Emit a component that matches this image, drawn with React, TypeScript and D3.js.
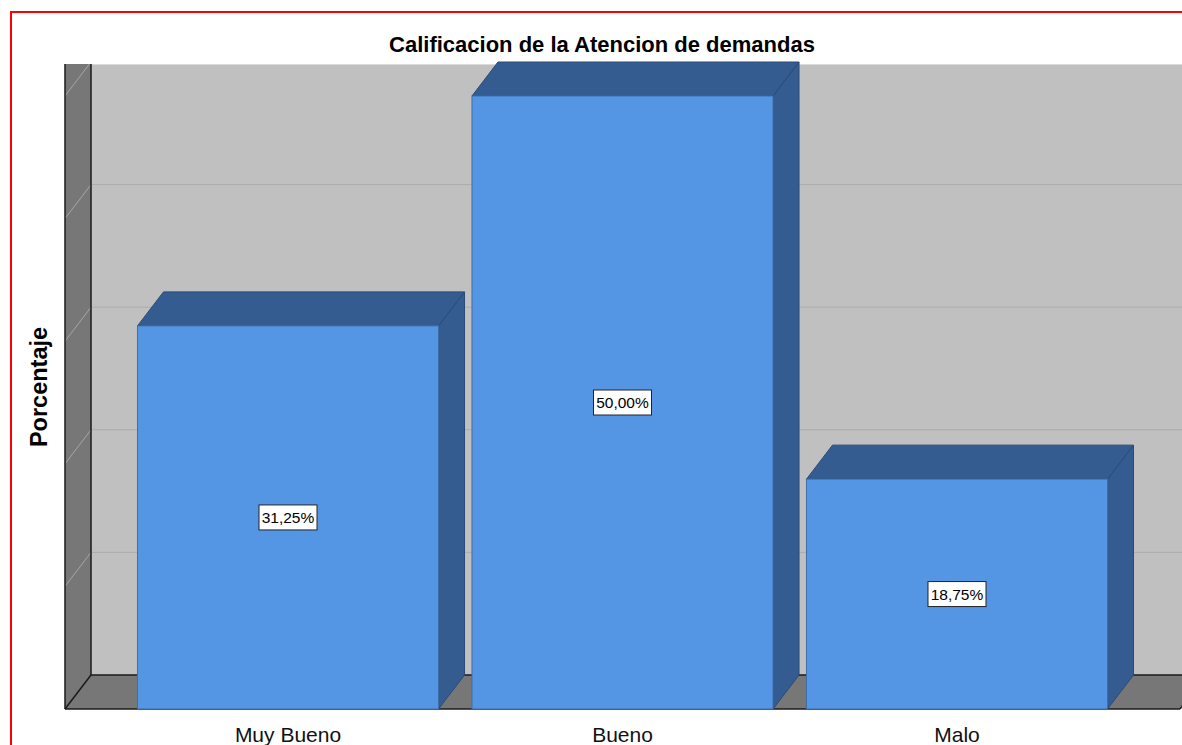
import * as d3 from "d3";

const categories = ["Muy Bueno", "Bueno", "Malo"];
const percentages = [31.25, 50, 18.75];
const yTicks = [0, 10, 20, 30, 40, 50];

const esLocale = d3.formatLocale({ decimal: ",", thousands: ".", grouping: [3], currency: ["", "€"] });
const fmt = (v: number) => esLocale.format(".2f")(v) + "%";

const W = 1182;
const H = 745;
const FONT = "'Liberation Sans', Arial, sans-serif";

// depth offset of the 3D plot
const DX = 26;
const DY = 34;

const App = () => {
  const left = 65;
  const right = 1180;
  const top = 64;
  const floorFront = 709;

  const x = d3.scaleBand<string>().domain(categories).range([left, right]).paddingInner(0.1).paddingOuter(0.2167);
  const y = d3.scaleLinear().domain([0, 50]).range([floorFront, 96]);

  const floorBack = y(0) - DY;
  const bw = x.bandwidth();

  return (
    <svg
      width={W}
      height={H}
      viewBox={`0 0 ${W} ${H}`}
      style={{ position: "absolute", left: 0, top: 0, display: "block", background: "#fff" }}
    >
      <defs>
        <clipPath id="plotClip">
          <rect x={0} y={top} width={W} height={H - top} />
        </clipPath>
      </defs>

      {/* back wall */}
      <rect x={left + DX} y={top} width={W - left - DX} height={floorBack - top} fill="#c0c0c0" />
      <line x1={left + DX} x2={W} y1={top + 0.5} y2={top + 0.5} stroke="#dadada" />
      {yTicks.slice(1, -1).map((t) => (
        <line key={t} x1={left + DX} x2={W} y1={y(t) - DY} y2={y(t) - DY} stroke="#acacac" strokeWidth={1} />
      ))}

      {/* left wall */}
      <polygon
        points={`${left},${top} ${left + DX},${top} ${left + DX},${floorBack} ${left},${floorFront}`}
        fill="#777777"
      />
      <g clipPath="url(#plotClip)">
        {yTicks.slice(1).map((t) => (
          <line key={t} x1={left} y1={y(t)} x2={left + DX} y2={y(t) - DY} stroke="#a6a6a6" strokeWidth={1} />
        ))}
      </g>
      <line x1={left} x2={left} y1={top} y2={floorFront} stroke="#1a1a1a" strokeWidth={1.5} />
      <line x1={left + DX} x2={left + DX} y1={top} y2={floorBack} stroke="#1a1a1a" strokeWidth={1.5} />

      {/* floor */}
      <polygon
        points={`${left},${floorFront} ${left + DX},${floorBack} ${right + DX},${floorBack} ${right},${floorFront}`}
        fill="#777777"
      />
      <line x1={left + DX} x2={W} y1={floorBack} y2={floorBack} stroke="#1a1a1a" strokeWidth={1.5} />
      <line x1={left} x2={right} y1={floorFront} y2={floorFront} stroke="#1a1a1a" strokeWidth={1.5} />
      <line x1={left} y1={floorFront} x2={left + DX} y2={floorBack} stroke="#1a1a1a" strokeWidth={1.5} />
      <line x1={right} y1={floorFront} x2={right + DX} y2={floorBack} stroke="#1a1a1a" strokeWidth={1.5} />

      {/* bars */}
      {categories.map((c, i) => {
        const x0 = x(c) as number;
        const x1 = x0 + bw;
        const yt = y(percentages[i]);
        const yb = y(0);
        const cx = x0 + bw / 2;
        const cy = (yt + yb) / 2;
        return (
          <g key={c}>
            <polygon
              points={`${x1},${yt} ${x1 + DX},${yt - DY} ${x1 + DX},${yb - DY} ${x1},${yb}`}
              fill="#345c91"
              stroke="#2a4a76"
              strokeWidth={1}
            />
            <polygon
              points={`${x0},${yt} ${x0 + DX},${yt - DY} ${x1 + DX},${yt - DY} ${x1},${yt}`}
              fill="#345c91"
              stroke="#2a4a76"
              strokeWidth={1}
            />
            <rect x={x0} y={yt} width={bw} height={yb - yt} fill="#5596e4" stroke="#3e6ea8" strokeWidth={1} />
            <rect x={cx - 29} y={cy - 12.5} width={58} height={25} fill="#fff" stroke="#222" strokeWidth={1} />
            <text x={cx} y={cy + 5.5} textAnchor="middle" fontFamily={FONT} fontSize={15.5} fill="#000">
              {fmt(percentages[i])}
            </text>
            <text x={cx} y={742} textAnchor="middle" fontFamily={FONT} fontSize={21} fill="#111">
              {c}
            </text>
          </g>
        );
      })}

      {/* title */}
      <text x={602} y={52} textAnchor="middle" fontFamily={FONT} fontSize={22} fontWeight="bold" fill="#000">
        Calificacion de la Atencion de demandas
      </text>

      {/* y axis title */}
      <text
        transform={`translate(47, 387) rotate(-90)`}
        textAnchor="middle"
        fontFamily={FONT}
        fontSize={23.5}
        fontWeight="bold"
        fill="#000"
      >
        Porcentaje
      </text>

      {/* frame */}
      <rect x={11} y={12} width={W} height={H} fill="none" stroke="#ff0000" strokeWidth={2} />
    </svg>
  );
};

export default App;
